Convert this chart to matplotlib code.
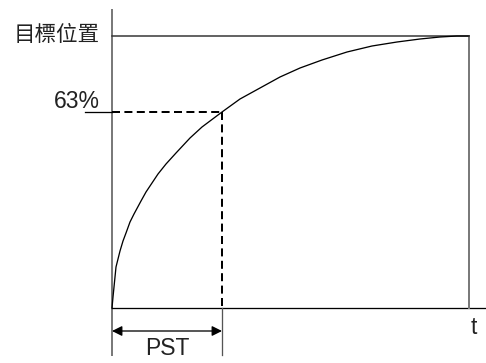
import matplotlib
matplotlib.use("Agg")
import matplotlib.pyplot as plt

# curve (t from axis origin, y from baseline)
t_values = [0, 1, 2, 4, 6, 8, 11, 14, 18, 22, 29, 34, 40, 46, 54, 64, 78, 90,
            110, 128, 148, 168, 188, 210, 235, 260, 285, 308, 328, 345, 357]
y_values = [0, 11, 21, 41, 49, 57, 67, 75, 86, 94, 107, 116, 125, 134, 144, 155, 170, 181,
            196, 209, 220, 231, 240, 248, 256, 262, 266, 269, 271, 272, 272]

t_end = 357        # end of the time axis
y_target = 272     # target position
pst_t = 110        # point where the curve hits 63%
y_63 = 196
target_label = "目標位置"
pct_label = "63%"

plt.rcParams['font.family'] = ['Liberation Sans', 'Noto Sans CJK TC', 'DejaVu Sans']

fig = plt.figure(figsize=(4.86, 3.63), dpi=100)
ax = fig.add_axes([0, 0, 1, 1])
ax.set_xlim(-112, 374)
ax.set_ylim(-55, 308)
ax.axis("off")

px = 0.72  # one pixel in points
gray = "#7a7a7a"

# frame lines
ax.plot([0, 0], [-47, 298], color=gray, lw=2 * px)
ax.plot([0, 374], [0, 0], color="black", lw=1.3 * px)
ax.plot([0, t_end], [y_target, y_target], color="#333333", lw=1.5 * px)
ax.plot([t_end, t_end], [0, y_target], color=gray, lw=2 * px)

# response curve
ax.plot(t_values, y_values, color="black", lw=1.3 * px, solid_joinstyle="round")

# 63% guide lines
ax.plot([-27, 0], [y_63, y_63], color="black", lw=1.3 * px)
ax.plot([0, pst_t], [y_63, y_63], color="black", lw=2 * px, dashes=(4, 2.2))
ax.plot([pst_t, pst_t], [y_63, 0], color="black", lw=2 * px, dashes=(4, 2.2))
ax.plot([pst_t, pst_t], [0, -47], color="#555555", lw=1.3 * px)

# PST arrow
ax.annotate("", xy=(0, -23), xytext=(pst_t, -23),
            arrowprops=dict(arrowstyle="<|-|>", color="black", lw=1.3 * px,
                            mutation_scale=15, shrinkA=0, shrinkB=0))

txt = "#222222"
ax.text(-12, y_target + 1, target_label, ha="right", va="center", fontsize=15.5,
        color=txt, family=['Noto Sans CJK TC', 'DejaVu Sans'])
ax.text(-12, 200, pct_label, ha="right", va="baseline", fontsize=16.5, color=txt)
ax.text(362, -19, "t", ha="center", va="center", fontsize=16.5, color=txt)
ax.text(55, -52, "PST", ha="center", va="bottom", fontsize=16.5, color=txt)

fig.savefig("out.png", dpi=100)
